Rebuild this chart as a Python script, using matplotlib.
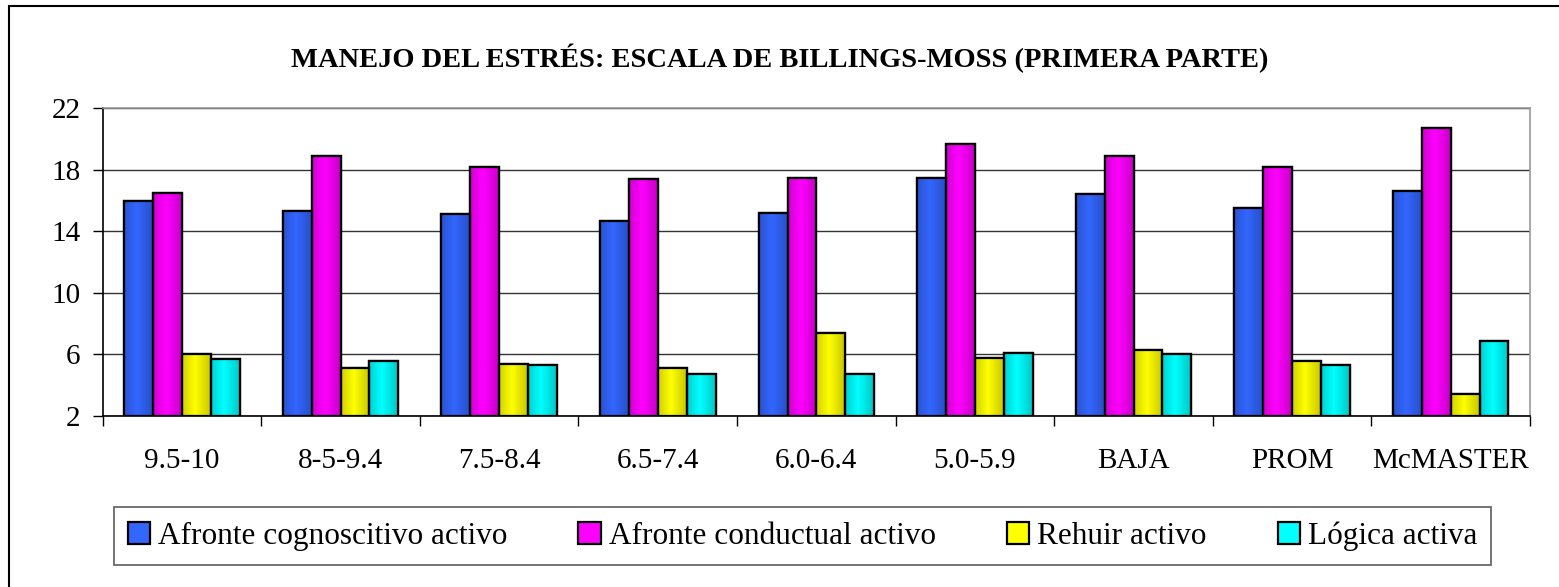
import numpy as np
import matplotlib
matplotlib.use('Agg')
import matplotlib.pyplot as plt
from matplotlib.colors import to_rgb
from matplotlib.patches import Rectangle

# Données
categorias = ['9.5-10', '8-5-9.4', '7.5-8.4', '6.5-7.4', '6.0-6.4', '5.0-5.9', 'BAJA', 'PROM', 'McMASTER']
cognoscitivo = [16.0, 15.3, 15.1, 14.7, 15.2, 17.5, 16.4, 15.5, 16.6]
conductual = [16.5, 18.9, 18.2, 17.4, 17.5, 19.7, 18.9, 18.2, 20.7]
rehuir = [6.0, 5.1, 5.4, 5.1, 7.4, 5.8, 6.3, 5.6, 3.4]
logica = [5.7, 5.6, 5.3, 4.7, 4.7, 6.1, 6.0, 5.3, 6.9]

series = ['Afronte cognoscitivo activo', 'Afronte conductual activo', 'Rehuir activo', 'Lógica activa']
colores = ['#3366FF', '#FF00FF', '#FFFF00', '#00FFFF']

plt.rcParams['font.family'] = ['Liberation Serif', 'DejaVu Serif']

fig = plt.figure(figsize=(15.59, 5.87), dpi=100)
ax = fig.add_axes([0.0659, 0.2913, 0.9155, 0.5242])

x = np.arange(len(categorias))
ancho = 0.182
valores = [cognoscitivo, conductual, rehuir, logica]

# petit dégradé horizontal (bords plus sombres)
t = np.linspace(0, 1, 64)
facteur = 1 - 0.22 * np.abs(t - 0.45) / 0.55

for i, (vals, col, nombre) in enumerate(zip(valores, colores, series)):
    pos = x + (i - 1.5) * ancho
    alturas = np.array(vals) - 2
    barras = ax.bar(pos, alturas, width=ancho, bottom=2, color=col, edgecolor='black',
                    linewidth=1.6, label=nombre, zorder=3)
    rgb = np.array(to_rgb(col))
    grad = (facteur[:, None] * rgb[None, :])[None, :, :]
    for b in barras:
        x0, y0 = b.get_x(), b.get_y()
        im = ax.imshow(grad, extent=(x0, x0 + b.get_width(), y0, y0 + b.get_height()),
                       aspect='auto', zorder=3.5, interpolation='bilinear')
        im.set_clip_path(b)
        ax.add_patch(Rectangle((x0, y0), b.get_width(), b.get_height(), fill=False,
                               edgecolor='black', linewidth=1.6, zorder=4))

ax.set_ylim(2, 22)
ax.set_xlim(-0.5, len(categorias) - 0.5)
ax.set_yticks([2, 6, 10, 14, 18, 22])
ax.yaxis.grid(True, color='#333333', linewidth=1, zorder=0)
ax.tick_params(axis='y', direction='out', length=7, width=1, labelsize=21, pad=9)

ax.set_xticks(x)
ax.set_xticklabels(categorias)
ax.set_xticks(np.arange(-0.5, len(categorias)), minor=True)
ax.tick_params(axis='x', which='major', length=0, labelsize=21, pad=23)
ax.tick_params(axis='x', which='minor', direction='out', length=7, width=1)

ax.spines['left'].set_color('black')
ax.spines['bottom'].set_color('black')
ax.spines['top'].set_color('#999999')
ax.spines['right'].set_color('#999999')
for s in ax.spines.values():
    s.set_linewidth(1.2)

fig.text(0.5, 1 - 58 / 587, 'MANEJO DEL ESTRÉS: ESCALA DE BILLINGS-MOSS (PRIMERA PARTE)',
         ha='center', va='center', fontsize=20.5, fontweight='bold')

leg = fig.legend(loc='center', bbox_to_anchor=(98 / 1559, 1 - 570 / 587, 1409 / 1559, 68 / 587),
                 mode='expand', ncol=4, fontsize=22.5, frameon=True, fancybox=False,
                 handlelength=0.72, handleheight=0.72, handletextpad=0.25, borderpad=0.45)
leg.get_frame().set_edgecolor('#333333')
leg.get_frame().set_linewidth(1.2)

# Cadre extérieur du graphique
fig.patches.append(Rectangle((8.5 / 1559, -0.1), 1.2, 1 - 6 / 587 + 0.1, transform=fig.transFigure,
                             fill=False, edgecolor='black', linewidth=1.5))

fig.savefig('out.png', dpi=100)
